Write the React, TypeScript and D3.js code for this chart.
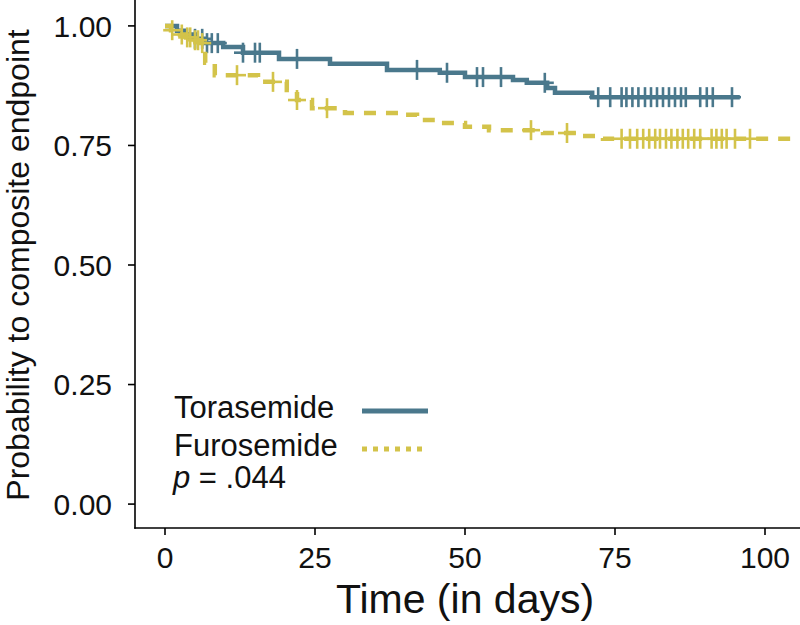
import React from "react";
import * as d3 from "d3";

// Kaplan-Meier step data (time in days, survival probability)
const toraTimes = [0, 2, 3.5, 5, 6.5, 9.7, 13, 19, 27.5, 37, 45.8, 50, 58, 60.3, 63.7, 65, 71.2, 95.8];
const toraSurv = [1, 0.99, 0.982, 0.973, 0.964, 0.956, 0.944, 0.931, 0.921, 0.908, 0.902, 0.893, 0.887, 0.881, 0.87, 0.86, 0.851, 0.851];
const toraCensor = [5, 6.2, 7, 7.8, 8.8, 13, 15, 15.8, 22, 42, 47, 52, 53, 56, 63.3, 72.2, 74.2, 76.1, 76.9, 77.9, 78.9, 80, 81, 82, 83, 84, 85, 86, 86.8, 89.2, 90.3, 91.3, 94.5];

const furoTimes = [0, 1, 2.5, 3.5, 5, 6, 6.7, 8.3, 15.5, 20.3, 22, 24.5, 30, 39, 42, 46, 50, 54, 63, 69, 73, 105];
const furoSurv = [1, 0.991, 0.982, 0.976, 0.97, 0.964, 0.923, 0.897, 0.883, 0.866, 0.845, 0.828, 0.818, 0.814, 0.803, 0.797, 0.789, 0.782, 0.776, 0.77, 0.764, 0.764];
const furoCensor = [1.2, 2.8, 3.7, 4.2, 5, 5.5, 6.2, 12, 18, 22, 27, 61, 67, 76.1, 77.5, 78.7, 79.7, 80.7, 81.7, 82.5, 83.5, 84.4, 85.4, 86.3, 87.2, 88.2, 89.2, 91.1, 91.9, 92.8, 93.6, 95, 97.5];

const xTicks = [0, 25, 50, 75, 100];
const yTicks = [0, 0.25, 0.5, 0.75, 1];
const groupNames = ["Torasemide", "Furosemide"];
const pValueText = " = .044";

const BLUE = "#4A788C";
const YELLOW = "#D3C34A";
const FONT = "'Liberation Sans', Arial, Helvetica, sans-serif";

const PANEL = { left: 135, right: 795, top: 2, bottom: 528 };

export default function App() {
  const x = d3.scaleLinear().domain([-5, 105]).range([PANEL.left, PANEL.right]);
  const y = d3.scaleLinear().domain([-0.05, 1.05]).range([PANEL.bottom, PANEL.top]);

  const line = d3
    .line<[number, number]>()
    .x((d) => x(d[0]))
    .y((d) => y(d[1]))
    .curve(d3.curveStepAfter);

  const survAt = (times: number[], surv: number[], t: number) => {
    const i = d3.bisectRight(times, t) - 1;
    return surv[Math.max(0, Math.min(i, surv.length - 1))];
  };

  const groups = [
    { times: toraTimes, surv: toraSurv, censor: toraCensor, color: BLUE, dash: undefined as string | undefined },
    { times: furoTimes, surv: furoSurv, censor: furoCensor, color: YELLOW, dash: "12 10" },
  ];

  return (
    <svg
      width={800}
      height={625}
      style={{ position: "fixed", left: 0, top: 0, background: "#fff" }}
      fontFamily={FONT}
    >
      <rect x={0} y={0} width={800} height={625} fill="#fff" />
      <defs>
        <clipPath id="panel">
          <rect x={PANEL.left} y={PANEL.top - 2} width={PANEL.right - PANEL.left + 5} height={PANEL.bottom - PANEL.top + 2} />
        </clipPath>
      </defs>

      <g clipPath="url(#panel)">
        {groups.map((g, gi) => {
          const pts: [number, number][] = g.times.map((t, i) => [t, g.surv[i]]);
          return (
            <g key={gi}>
              <path d={line(pts) || ""} fill="none" stroke={g.color} strokeWidth={4.5} strokeDasharray={g.dash} />
              {g.censor.map((t, ci) => {
                const cx = x(t);
                const cy = y(survAt(g.times, g.surv, t));
                return (
                  <g key={ci} stroke={g.color} strokeWidth={2.6}>
                    <line x1={cx} x2={cx} y1={cy - 10} y2={cy + 10} />
                    <line x1={cx - 9} x2={cx + 9} y1={cy} y2={cy} />
                  </g>
                );
              })}
            </g>
          );
        })}
      </g>

      {/* Axes */}
      <line x1={PANEL.left} x2={PANEL.left} y1={0} y2={PANEL.bottom + 0.75} stroke="#000" strokeWidth={1.6} />
      <line x1={PANEL.left - 0.75} x2={800} y1={PANEL.bottom} y2={PANEL.bottom} stroke="#000" strokeWidth={1.6} />

      {yTicks.map((t) => (
        <g key={t}>
          <line x1={PANEL.left - 7} x2={PANEL.left} y1={y(t)} y2={y(t)} stroke="#000" strokeWidth={1.6} />
          <text x={PANEL.left - 23} y={y(t)} dy="0.36em" textAnchor="end" fontSize={30} fill="#111">
            {d3.format(".2f")(t)}
          </text>
        </g>
      ))}
      {xTicks.map((t) => (
        <g key={t}>
          <line x1={x(t)} x2={x(t)} y1={PANEL.bottom} y2={PANEL.bottom + 7} stroke="#000" strokeWidth={1.6} />
          <text x={x(t)} y={568} textAnchor="middle" fontSize={30} fill="#111">
            {t}
          </text>
        </g>
      ))}

      <text x={(PANEL.left + PANEL.right) / 2} y={613} textAnchor="middle" fontSize={41} fill="#111">
        Time (in days)
      </text>
      <text
        transform={`translate(29, ${(PANEL.top + PANEL.bottom) / 2}) rotate(-90)`}
        textAnchor="middle"
        fontSize={32}
        fill="#111"
      >
        Probability to composite endpoint
      </text>

      {/* Legend */}
      <text x={174} y={418} fontSize={31} fill="#111">{groupNames[0]}</text>
      <line x1={362} x2={428} y1={411} y2={411} stroke={BLUE} strokeWidth={5} />
      <text x={174} y={456} fontSize={31} fill="#111">{groupNames[1]}</text>
      <line x1={362} x2={428} y1={449} y2={449} stroke={YELLOW} strokeWidth={5} strokeDasharray="5 6" />
      <text x={173} y={488} fontSize={31} fill="#111">
        <tspan fontStyle="italic">p</tspan>
        {pValueText}
      </text>
    </svg>
  );
}
